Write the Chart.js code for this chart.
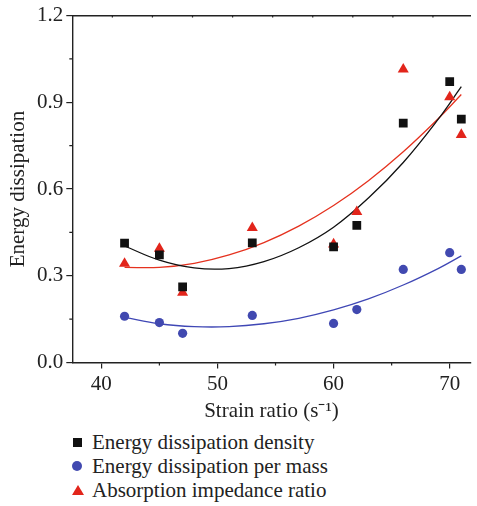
<!DOCTYPE html>
<html>
<head>
<meta charset="utf-8">
<script src="https://cdn.jsdelivr.net/npm/chart.js@4"></script>
<style>
  html, body { margin: 0; padding: 0; background: #fff; overflow: hidden; }
  #wrap { position: relative; width: 477px; height: 424px; }
  #legend { position: absolute; left: 70px; top: 430px; font-family: "Liberation Serif", serif; font-size: 21px; color: #222; }
  #legend div { height: 24px; line-height: 24px; white-space: nowrap; }
  #legend span.mk { display: inline-block; width: 22px; height: 24px; vertical-align: top; position: relative; }
</style>
</head>
<body>
<div id="wrap"><canvas id="chart"></canvas></div>
<div id="legend"></div>
<script>
// measured points
var strainRatio = [42, 45, 47, 53, 60, 62, 66, 70, 71];
var density = [0.413, 0.372, 0.262, 0.414, 0.400, 0.474, 0.828, 0.972, 0.842];
var perMass = [0.160, 0.138, 0.101, 0.163, 0.135, 0.183, 0.322, 0.380, 0.322];
var impedance = [0.342, 0.394, 0.242, 0.466, 0.409, 0.521, 1.014, 0.918, 0.788];

// fitted curves
var fitX = [42, 45, 48, 51, 54, 57, 60, 63, 66, 69, 71];
var fitDensity = [0.403, 0.354, 0.327, 0.325, 0.349, 0.397, 0.468, 0.569, 0.692, 0.841, 0.954];
var fitPerMass = [0.156, 0.134, 0.124, 0.124, 0.134, 0.153, 0.182, 0.220, 0.268, 0.325, 0.369];
var fitImpedance = [0.329, 0.329, 0.343, 0.372, 0.415, 0.472, 0.543, 0.629, 0.729, 0.843, 0.927];

var xTicks = [40, 50, 60, 70];
var xMinor = [45, 55, 65];
var yTicks = [0, 0.3, 0.6, 0.9, 1.2];
var yMinor = [0.15, 0.45, 0.75, 1.05];
var topTicks = [1, 2, 3, 4, 5, 6, 7, 8, 9];

var names = ["Energy dissipation density", "Energy dissipation per mass", "Absorption impedance ratio"];
var colors = ["#111111", "#4149b0", "#e2251b"];
var lineColors = ["#111111", "#3f47b5", "#e5321f"];
var styles = ["rect", "circle", "triangle"];
var radii = [6.2, 4.6, 6.4];

var fontFamily = "'Liberation Serif', serif";
var axisColor = "#222";

function pts(xs, ys) {
    var out = [];
    for (var i = 0; i < xs.length; i++) {
        out.push({x: xs[i], y: ys[i]});
    }
    return out;
}

var series = [density, perMass, impedance];
var fits = [fitDensity, fitPerMass, fitImpedance];
var datasets = [];
for (var i = 0; i < 3; i++) {
    datasets.push({
        label: names[i],
        data: pts(strainRatio, series[i]),
        pointStyle: styles[i],
        pointRadius: radii[i],
        pointHoverRadius: radii[i],
        backgroundColor: colors[i],
        borderColor: colors[i],
        borderWidth: 0,
        order: 0
    });
}
for (var j = 0; j < 3; j++) {
    datasets.push({
        label: names[j] + " fit",
        data: pts(fitX, fits[j]),
        showLine: true,
        pointRadius: 0,
        borderColor: lineColors[j],
        borderWidth: 1.3,
        tension: 0.4,
        fill: false,
        order: 1
    });
}

function setTicks(list) {
    return function(scale) {
        scale.ticks = list.map(function(v) { return {value: v}; });
    };
}

// short minor tick marks and inward top ticks
var minorTicks = {
    id: "minorTicks",
    afterDraw: function(chart) {
        var ctx = chart.ctx;
        var x = chart.scales.x, y = chart.scales.y, t = chart.scales.x2;
        ctx.save();
        ctx.strokeStyle = axisColor;
        ctx.lineWidth = 1.2;
        ctx.beginPath();
        xMinor.forEach(function(v) {
            var px = x.getPixelForValue(v);
            ctx.moveTo(px, x.top);
            ctx.lineTo(px, x.top + 3);
        });
        yMinor.forEach(function(v) {
            var py = y.getPixelForValue(v);
            ctx.moveTo(y.right, py);
            ctx.lineTo(y.right - 3, py);
        });
        topTicks.forEach(function(v) {
            var px = t.getPixelForValue(v);
            ctx.moveTo(px, t.bottom);
            ctx.lineTo(px, t.bottom + 2);
        });
        ctx.stroke();
        ctx.restore();
    }
};

new Chart(document.getElementById("chart"), {
    type: "scatter",
    data: {datasets: datasets},
    options: {
        responsive: true,
        maintainAspectRatio: false,
        animation: false,
        layout: {padding: {left: 0, right: 0, top: 0, bottom: 0}},
        plugins: {legend: {display: false}, tooltip: {enabled: false}},
        scales: {
            x: {
                type: "linear",
                min: 37.5,
                max: 71.8,
                afterBuildTicks: setTicks(xTicks),
                afterFit: function(s) { s.height = 61.5; },
                border: {color: axisColor, width: 1.4},
                grid: {drawOnChartArea: false, tickLength: 6, color: axisColor, lineWidth: 1.2},
                ticks: {color: axisColor, padding: 3, maxRotation: 0, font: {family: fontFamily, size: 21}},
                title: {display: true, text: "Strain ratio (s\u207B\u00B9)", color: axisColor, padding: 0, font: {family: fontFamily, size: 21}}
            },
            x2: {
                type: "linear",
                position: "top",
                min: 0,
                max: 9.94,
                afterBuildTicks: setTicks(topTicks),
                afterFit: function(s) { s.height = 12.7; },
                border: {color: axisColor, width: 1.4},
                grid: {display: false},
                ticks: {display: false}
            },
            y: {
                min: 0,
                max: 1.2,
                afterBuildTicks: setTicks(yTicks),
                afterFit: function(s) { s.width = 72.3; },
                border: {color: axisColor, width: 1.4},
                grid: {drawOnChartArea: false, tickLength: 6, color: axisColor, lineWidth: 1.2},
                ticks: {
                    color: axisColor,
                    padding: 3,
                    font: {family: fontFamily, size: 21},
                    callback: function(v) { return v.toFixed(1); }
                },
                title: {display: true, text: "Energy dissipation", color: axisColor, padding: {top: 6, bottom: 0}, font: {family: fontFamily, size: 21}}
            }
        }
    },
    plugins: [minorTicks]
});

// legend below the chart
var legend = document.getElementById("legend");
var markCss = [
    "left:3px;top:8px;width:9px;height:9px;background:" + colors[0] + ";",
    "left:2px;top:7px;width:10px;height:10px;border-radius:50%;background:" + colors[1] + ";",
    "left:2px;top:7px;width:0;height:0;border-left:6px solid transparent;border-right:6px solid transparent;border-bottom:10px solid " + colors[2] + ";"
];
for (var k = 0; k < names.length; k++) {
    var row = document.createElement("div");
    var mk = document.createElement("span");
    mk.className = "mk";
    var dot = document.createElement("i");
    dot.style.cssText = "position:absolute;display:block;" + markCss[k];
    mk.appendChild(dot);
    row.appendChild(mk);
    row.appendChild(document.createTextNode(names[k]));
    legend.appendChild(row);
}
</script>
</body>
</html>
